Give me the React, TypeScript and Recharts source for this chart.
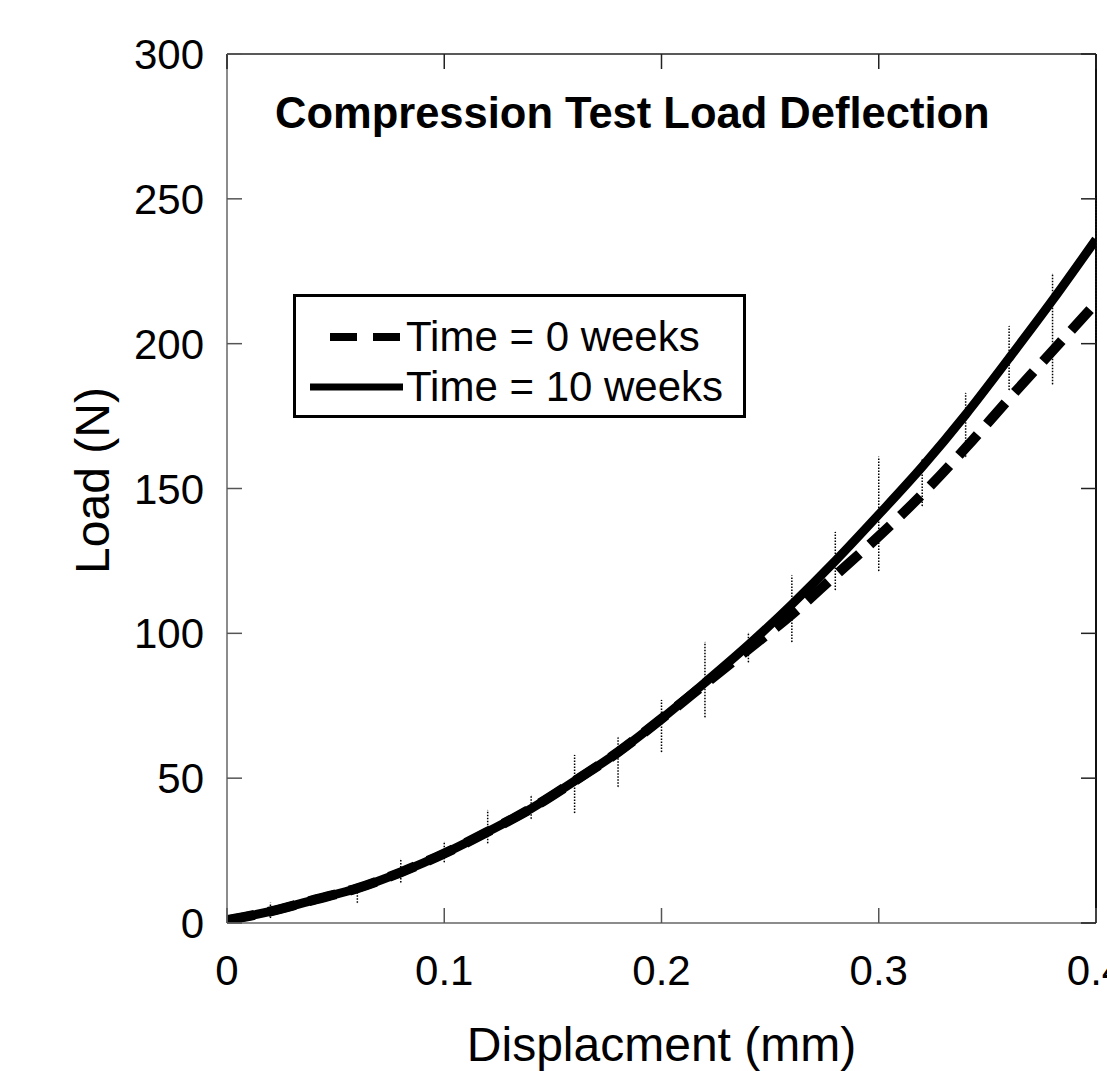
import { LineChart, Line, XAxis, YAxis, ErrorBar, ReferenceLine, Legend } from 'recharts'

const X_VALUES = [0, 0.02, 0.04, 0.06, 0.08, 0.1, 0.12, 0.14, 0.16, 0.18, 0.2, 0.22, 0.24, 0.26, 0.28, 0.3, 0.32, 0.34, 0.36, 0.38, 0.4]
const LOAD_0_WEEKS = [1, 4, 8, 12, 17.5, 24, 31.5, 39.5, 49, 59, 70.5, 82.5, 94.5, 106.5, 120, 133.5, 148, 164, 181, 197.5, 214]
const LOAD_10_WEEKS = [1, 4, 8, 12, 17.5, 24, 31.5, 39.5, 49, 59, 70.5, 83, 96, 110, 125, 141, 157.5, 175.5, 195, 215, 236]

// dotted error bars (low / high load)
const ERR_X = [0.02, 0.06, 0.08, 0.1, 0.12, 0.14, 0.16, 0.18, 0.2, 0.22, 0.24, 0.26, 0.28, 0.3, 0.32, 0.34, 0.36, 0.38, 0.4]
const ERR_LOW = [1.7, 7, 14, 21, 27.5, 36, 38, 47, 59, 71, 90, 97, 115, 121.5, 144, 161, 184, 186, 201]
const ERR_HIGH = [7, 12, 22, 28, 39, 44, 58, 64, 77, 97, 100, 120, 135, 161, 160, 183, 206, 224, 251]

const X_TICKS = [0, 0.1, 0.2, 0.3, 0.4]
const Y_TICKS = [0, 50, 100, 150, 200, 250, 300]

const SERIES_NAMES = ['Time = 0 weeks', 'Time = 10 weeks']
const TITLE = 'Compression Test Load Deflection'

const W = 1107
const H = 1071
const PLOT_LEFT = 227
const PLOT_RIGHT = 1096
const PLOT_TOP = 54
const PLOT_BOTTOM = 923
const FONT = '"Liberation Sans", Arial, sans-serif'

const data = X_VALUES.map((x, i) => ({ x, t0: LOAD_0_WEEKS[i], t10: LOAD_10_WEEKS[i] }))
const errData = ERR_X.map((x, i) => ({
  x,
  mid: (ERR_LOW[i] + ERR_HIGH[i]) / 2,
  half: (ERR_HIGH[i] - ERR_LOW[i]) / 2,
}))

const XTick = ({ x, payload }: any) => (
  <g>
    <line x1={x} x2={x} y1={PLOT_BOTTOM} y2={PLOT_BOTTOM - 15} stroke="#555" strokeWidth={1.5} />
    <line x1={x} x2={x} y1={PLOT_TOP} y2={PLOT_TOP + 15} stroke="#222" strokeWidth={1.5} />
    <text x={x} y={PLOT_BOTTOM + 62} textAnchor="middle" fontSize={42} fontFamily={FONT} fill="#000">
      {String(payload.value)}
    </text>
  </g>
)

const YTick = ({ y, payload }: any) => (
  <g>
    <line x1={PLOT_LEFT} x2={PLOT_LEFT + 15} y1={y} y2={y} stroke="#555" strokeWidth={1.5} />
    <line x1={PLOT_RIGHT - 15} x2={PLOT_RIGHT} y1={y} y2={y} stroke="#222" strokeWidth={1.5} />
    <text x={PLOT_LEFT - 23} y={y + 15} textAnchor="end" fontSize={42} fontFamily={FONT} fill="#000">
      {String(payload.value)}
    </text>
  </g>
)

const LegendBox = ({ payload }: any) => {
  const items = (payload || []).filter((e: any) => e.dataKey === 't0' || e.dataKey === 't10')
  return (
    <div
      style={{
        width: 453,
        height: 124,
        boxSizing: 'border-box',
        border: '3px solid #000',
        background: '#fff',
        position: 'relative',
        fontFamily: FONT,
        fontSize: 42,
        color: '#000',
      }}
    >
      {items.map((entry: any, i: number) => {
        const dashed = entry.dataKey === 't0'
        return (
          <div key={entry.value} style={{ position: 'absolute', left: 0, top: 16 + i * 50, height: 48, display: 'flex', alignItems: 'center' }}>
            <svg width={110} height={48} style={{ display: 'block' }}>
              {dashed ? (
                <line x1={34} x2={107} y1={24} y2={24} stroke="#000" strokeWidth={8} strokeDasharray="27 16" />
              ) : (
                <line x1={14} x2={107} y1={24} y2={24} stroke="#000" strokeWidth={7} />
              )}
            </svg>
            <span style={{ lineHeight: '48px', whiteSpace: 'nowrap' }}>{entry.value}</span>
          </div>
        )
      })}
    </div>
  )
}

export default function App() {
  return (
    <div style={{ position: 'absolute', left: 0, top: 0, width: W, height: H, overflow: 'hidden', background: '#fff' }}>
      <LineChart width={W} height={H} margin={{ top: PLOT_TOP, right: W - PLOT_RIGHT, bottom: 0, left: 0 }}>
        <XAxis
          type="number"
          dataKey="x"
          domain={[0, 0.4]}
          ticks={X_TICKS}
          interval={0}
          height={H - PLOT_BOTTOM}
          axisLine={{ stroke: '#666', strokeWidth: 1.5 }}
          tickLine={false}
          tick={<XTick />}
          allowDataOverflow
          label={({ viewBox }: any) => (
            <text
              x={viewBox.x + viewBox.width / 2}
              y={1061}
              textAnchor="middle"
              fontSize={48}
              fontFamily={FONT}
              fill="#000"
            >
              Displacment (mm)
            </text>
          )}
        />
        <YAxis
          type="number"
          domain={[0, 300]}
          ticks={Y_TICKS}
          interval={0}
          width={PLOT_LEFT}
          axisLine={{ stroke: '#666', strokeWidth: 1.5 }}
          tickLine={false}
          tick={<YTick />}
          allowDataOverflow
          label={({ viewBox }: any) => {
            const cy = viewBox.y + viewBox.height / 2 - 8
            return (
              <text
                x={109}
                y={cy}
                transform={`rotate(-90 109 ${cy})`}
                textAnchor="middle"
                fontSize={48}
                fontFamily={FONT}
                fill="#000"
              >
                Load (N)
              </text>
            )
          }}
        />
        <ReferenceLine y={300} stroke="#222" strokeWidth={1.5} />
        <ReferenceLine x={0.4} stroke="#111" strokeWidth={2} />
        <Line
          data={errData}
          dataKey="mid"
          stroke="none"
          dot={false}
          activeDot={false}
          legendType="none"
          isAnimationActive={false}
        >
          <ErrorBar dataKey="half" direction="y" width={0} stroke="#000" strokeWidth={1.5} strokeDasharray="1.5 1.5" isAnimationActive={false} />
        </Line>
        <Line
          data={data}
          dataKey="t0"
          name={SERIES_NAMES[0]}
          type="monotone"
          stroke="#000"
          strokeWidth={10}
          strokeDasharray="28 14"
          dot={false}
          activeDot={false}
          isAnimationActive={false}
        />
        <Line
          data={data}
          dataKey="t10"
          name={SERIES_NAMES[1]}
          type="monotone"
          stroke="#000"
          strokeWidth={9}
          dot={false}
          activeDot={false}
          isAnimationActive={false}
        />
        <Legend
          layout="horizontal"
          verticalAlign="middle"
          align="center"
          content={<LegendBox />}
          wrapperStyle={{ position: 'absolute', left: 293, top: 294, width: 453, height: 124 }}
        />
      </LineChart>
      <div
        style={{
          position: 'absolute',
          left: 275,
          top: 92,
          fontFamily: FONT,
          fontWeight: 'bold',
          fontSize: 43.5,
          lineHeight: '43px',
          whiteSpace: 'nowrap',
          color: '#000',
        }}
      >
        {TITLE}
      </div>
    </div>
  )
}
